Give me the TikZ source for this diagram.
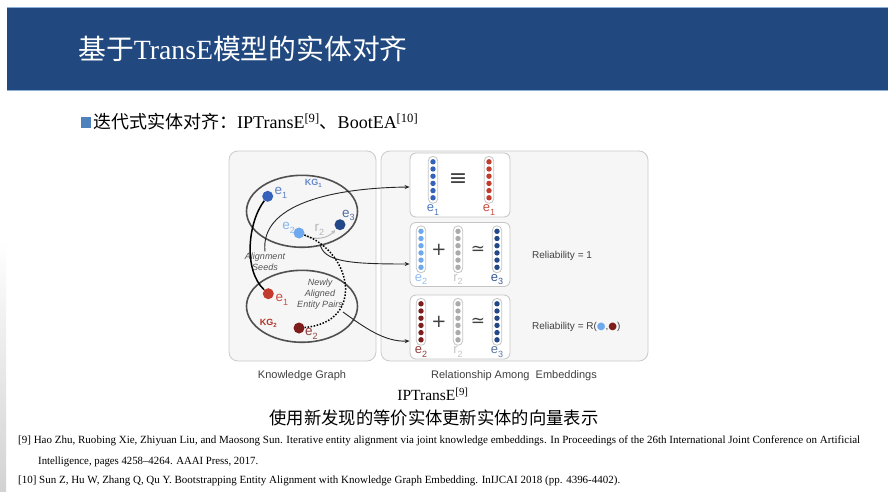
\documentclass[tikz,border=0pt]{standalone}
\usepackage{fontspec}
\setmainfont{Liberation Serif}
\newfontfamily\cjk{Noto Sans CJK SC}
\newfontfamily\hv{Liberation Sans}
\newfontfamily\dv{DejaVu Sans}
\usetikzlibrary{arrows.meta,shapes.geometric}

\definecolor{barblue}{HTML}{21497F}
\definecolor{barline}{HTML}{8DB0DA}
\definecolor{bulletblue}{HTML}{4F81BD}
\definecolor{panelfill}{HTML}{F6F6F6}
\definecolor{panelline}{HTML}{CBCBCB}
\definecolor{boxline}{HTML}{C4C4C4}
\definecolor{ellline}{HTML}{505050}
\definecolor{eblue}{HTML}{3562BA}
\definecolor{elight}{HTML}{6EA8EE}
\definecolor{edark}{HTML}{234888}
\definecolor{ered}{HTML}{C23B2E}
\definecolor{edred}{HTML}{7E1D1D}
\definecolor{rgray}{HTML}{ABABAB}
\definecolor{txtgray}{HTML}{404040}
\definecolor{notegray}{HTML}{555555}

% label with a lowered index, e.g. e_1
\newcommand{\sublab}[2]{#1\raisebox{-0.28em}{\fontsize{9}{9}\selectfont #2}}
% one embedding vector: name, x, y, dot colour
\newcommand{\embvec}[4]{%
  \node[capsule] (#1) at (#2,#3) {};
  \foreach \k in {-2.5,-1.5,-0.5,0.5,1.5,2.5}
    \fill[#4] (#2,#3+7.2*\k) circle (2.7pt);
}

\begin{document}
\begin{tikzpicture}[x=1pt,y=-1pt,
  panel/.style={draw=panelline, fill=panelfill, rounded corners=9pt, line width=0.8pt, inner sep=0pt},
  vbox/.style={draw=boxline, fill=white, rounded corners=6pt, line width=0.8pt, inner sep=0pt, minimum width=100pt, minimum height=64pt},
  capsule/.style={draw=boxline, fill=white, rounded corners=4.7pt, line width=0.8pt, inner sep=0pt, minimum width=9.5pt, minimum height=47pt},
  kg/.style={ellipse, draw=ellline, line width=1.6pt, inner sep=0pt, minimum width=111pt, minimum height=72pt},
  ent/.style={circle, inner sep=0pt, minimum size=11pt},
  elab/.style={inner sep=0pt, font=\hv\fontsize{13.5}{13.5}\selectfont},
  vlab/.style={inner sep=0pt, font=\hv\fontsize{13}{13}\selectfont},
  note/.style={inner sep=1pt, font=\hv\itshape\fontsize{9}{11}\selectfont, text=notegray, align=center},
  op/.style={inner sep=0pt, text=txtgray},
  link/.style={draw=black!85, line width=0.9pt, -{Stealth[length=5pt,width=4pt]}},
  caption/.style={inner sep=0pt, font=\hv\fontsize{11}{13}\selectfont, text=txtgray},
  reftext/.style={inner sep=0pt, anchor=west, font=\fontsize{11}{13}\selectfont}
]
\useasboundingbox (0,0) rectangle (888,492);
\fill[white] (0,0) rectangle (888,492);
\shade[top color=white, bottom color=gray!35] (0,240) rectangle (6,492);

% title bar
\node[fill=barblue, minimum width=881pt, minimum height=82pt, inner sep=0pt, anchor=north west] (bar) at (7,8) {};
\draw[barline, line width=1pt] (bar.north west) -- (bar.north east);
\draw[barline, line width=1pt] (bar.south west) -- (bar.south east);
\node[anchor=west, text=white, inner sep=0pt, font=\fontsize{27.8}{30}\selectfont] (title) at (78,49)
  {{\cjk 基于}TransE{\cjk 模型的实体对齐}};

% bullet line
\node[fill=bulletblue, minimum size=10.5pt, inner sep=0pt] (bul) at (86,122.5) {};
\node[anchor=west, inner sep=0pt, font=\fontsize{18}{20}\selectfont] (point) at (93,122)
  {{\cjk 迭代式实体对齐：}IPTransE\textsuperscript{[9]}{\cjk 、}BootEA\textsuperscript{[10]}};

% panels
\node[panel, minimum width=147pt, minimum height=210pt] (kgpanel) at (302.5,256) {};
\node[panel, minimum width=267pt, minimum height=210pt] (embpanel) at (514.5,256) {};

% knowledge graphs
\node[kg] (kg1) at (302,211.3) {};
\node[kg] (kg2) at (302,306.3) {};

\node[inner sep=0pt, text=eblue!75, font=\hv\bfseries\fontsize{9}{9}\selectfont] (kg1l) at (313.3,183) {KG\raisebox{-0.2em}{\fontsize{6}{6}\selectfont 1}};
\node[inner sep=0pt, text=ered!90!black, font=\hv\bfseries\fontsize{9}{9}\selectfont] (kg2l) at (268.3,323) {KG\raisebox{-0.2em}{\fontsize{6}{6}\selectfont 2}};

\node[note] (seeds) at (265,261.5) {Alignment\\Seeds};
\node[note] (pairs) at (320,294) {Newly\\Aligned\\Entity Pairs};

% entities
\node[ent, fill=eblue] (e1b) at (267.7,196.3) {};
\node[ent, fill=elight] (e2b) at (299,233) {};
\node[ent, fill=edark] (e3b) at (340,224.7) {};
\node[ent, fill=ered] (e1r) at (268.3,293.7) {};
\node[ent, fill=edred] (e2r) at (299,328) {};

\node[elab, text=eblue!80, anchor=west] (e1bl) at (274.5,193) {\sublab{e}{1}};
\node[elab, text=elight!85, anchor=east] (e2bl) at (295,228) {\sublab{e}{2}};
\node[elab, text=edark!80] (e3bl) at (348.3,215.5) {\sublab{e}{3}};
\node[elab, text=rgray!90] (r2l) at (319.3,230) {\sublab{r}{2}};
\node[elab, text=ered!90, anchor=west] (e1rl) at (275.5,300) {\sublab{e}{1}};
\node[elab, text=edred!85, anchor=west] (e2rl) at (305,333.5) {\sublab{e}{2}};

% links inside the graphs
\draw[rgray!80, line width=1.1pt, -{Stealth[length=4pt,width=4pt]}, shorten >=1.5pt]
  (e2b) .. controls (316,241) and (328,238) .. (e3b);
\draw[black, line width=1.5pt] (e1b) .. controls (248,222) and (243,270) .. (e1r);
\draw[black, line width=1.5pt, dash pattern=on 1.5pt off 1.6pt]
  (e2b) .. controls (352,252) and (366,322) .. (e2r);

% embedding boxes
\node[vbox] (boxA) at (460,185) {};
\node[vbox] (boxB) at (460,254.5) {};
\node[vbox] (boxC) at (460,327) {};

\embvec{vA1}{433}{179.8}{eblue}
\embvec{vA2}{489}{179.8}{ered}
\node[op, font=\dv\fontsize{22}{22}\selectfont] (eqv) at (458,180) {≡};
\node[vlab, text=eblue!85] (lA1) at (433,210) {\sublab{e}{1}};
\node[vlab, text=ered!90] (lA2) at (489,210) {\sublab{e}{1}};

\embvec{vB1}{421}{249.3}{elight}
\embvec{vB2}{458}{249.3}{rgray}
\embvec{vB3}{497}{249.3}{edark}
\node[op, font=\dv\fontsize{18}{18}\selectfont] (plusB) at (439,250) {+};
\node[op, font=\dv\fontsize{17}{17}\selectfont] (simB) at (478,250) {≃};
\node[vlab, text=elight!75] (lB1) at (421,279.5) {\sublab{e}{2}};
\node[vlab, text=rgray!70] (lB2) at (458,279.5) {\sublab{r}{2}};
\node[vlab, text=edark!90] (lB3) at (497,279.5) {\sublab{e}{3}};

\embvec{vC1}{421}{321.8}{edred}
\embvec{vC2}{458}{321.8}{rgray}
\embvec{vC3}{497}{321.8}{edark}
\node[op, font=\dv\fontsize{18}{18}\selectfont] (plusC) at (439,322) {+};
\node[op, font=\dv\fontsize{17}{17}\selectfont] (simC) at (478,322) {≃};
\node[vlab, text=edred!85] (lC1) at (421,352) {\sublab{e}{2}};
\node[vlab, text=rgray!70] (lC2) at (458,352) {\sublab{r}{2}};
\node[vlab, text=edark!75] (lC3) at (497,352) {\sublab{e}{3}};

\node[anchor=west, inner sep=0pt, text=txtgray, font=\hv\fontsize{10}{12}\selectfont] (rel1) at (532,256) {Reliability = 1};
\node[anchor=west, inner sep=0pt, text=txtgray, font=\hv\fontsize{10}{12}\selectfont] (rel2) at (532,327)
  {Reliability = R({\dv\color{elight}●},{\dv\color{edred}●})};

% connectors from the graph to the embedding relations
\coordinate (r2tail) at (320,243.5);
\coordinate (pairtail) at (343,312);
\draw[link] (seeds.north) .. controls (260,205) and (330,188) .. ([yshift=-2pt]boxA.west);
\draw[link] (r2tail) .. controls (323,262) and (350,264) .. ([yshift=-9.5pt]boxB.west);
\draw[link] (pairtail) .. controls (365,328) and (385,342) .. ([yshift=-14pt]boxC.west);

% panel captions
\node[caption] (kgcap) at (302,376) {Knowledge Graph};
\node[caption] (embcap) at (514,376) {Relationship Among~~Embeddings};

\node[inner sep=0pt, font=\fontsize{15.5}{17}\selectfont] (figname) at (433,394) {IPTransE\textsuperscript{[9]}};
\node[inner sep=0pt, font=\cjk\fontsize{17.3}{19}\selectfont] (figdesc) at (434,417.5) {使用新发现的等价实体更新实体的向量表示};

% references
\node[reftext] (ref9) at (18,441) {\resizebox{842pt}{\height}{[9] Hao Zhu, Ruobing Xie, Zhiyuan Liu, and Maosong Sun. Iterative entity alignment via joint knowledge embeddings. In Proceedings of the 26th International Joint Conference on Artificial}};
\node[reftext] (ref9b) at (38,462) {\resizebox{220pt}{\height}{Intelligence, pages 4258–4264. AAAI Press, 2017.}};
\node[reftext] (ref10) at (18,481) {\resizebox{602pt}{\height}{[10] Sun Z, Hu W, Zhang Q, Qu Y. Bootstrapping Entity Alignment with Knowledge Graph Embedding. InIJCAI 2018 (pp. 4396-4402).}};
\end{tikzpicture}
\end{document}
